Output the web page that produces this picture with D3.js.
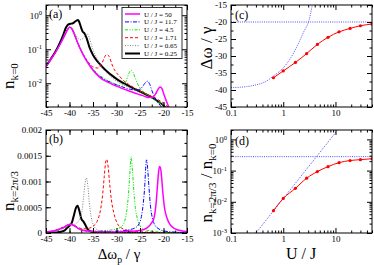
<!DOCTYPE html>
<html>
<head>
<meta charset="utf-8">
<script src="https://cdn.jsdelivr.net/npm/d3@7"></script>
<style>
body { margin: 0; background: #fff; }
svg { display: block; font-family: 'Liberation Serif', 'DejaVu Serif', serif; }
</style>
</head>
<body>
<svg id="canvas" width="374" height="265"></svg>
<script>
// series labels, same order in every panel
let legendLabels = ['U / J = 50', 'U / J = 11.7', 'U / J = 4.5', 'U / J = 1.71', 'U / J = 0.65', 'U / J = 0.25']

// panel (a): n_{k=0} against detuning, one list of [detuning, n] per U/J
let nZero50 = [[-45,0.032],[-44,0.05],[-43,0.08],[-42,0.14],[-41,0.26],[-40.5,0.36],[-40,0.44],[-39.6,0.42],[-39.2,0.33],[-38.8,0.24],[-38.3,0.16],[-37.8,0.11],[-37,0.065],[-36,0.038],[-35,0.024],[-34,0.017],[-33,0.013],[-32,0.011],[-31,0.0094],[-30,0.0082],[-29,0.0072],[-28,0.0064],[-27,0.0057],[-26,0.0051],[-25,0.0046],[-24,0.0041],[-23,0.0038],[-22.3,0.0039],[-21.7,0.0048],[-21.2,0.0065],[-20.7,0.0077],[-20.3,0.0068],[-19.9,0.0047],[-19.4,0.003],[-18.8,0.0019]]
let nZero11 = [[-45,0.032],[-44,0.05],[-43,0.08],[-42,0.14],[-41,0.26],[-40.5,0.36],[-40,0.44],[-39.6,0.42],[-39.2,0.33],[-38.8,0.24],[-38.3,0.16],[-37.8,0.11],[-37,0.066],[-36,0.039],[-35,0.025],[-34,0.018],[-33,0.014],[-32,0.0118],[-31,0.0102],[-30,0.009],[-29,0.008],[-28,0.0072],[-27,0.0066],[-26,0.0063],[-25,0.0067],[-24.5,0.0078],[-24,0.0098],[-23.4,0.0115],[-23,0.0098],[-22.5,0.0062],[-22,0.0042],[-21.5,0.0031],[-21,0.0025],[-20.3,0.0019]]
let nZero4 = [[-45,0.032],[-44,0.05],[-43,0.08],[-42,0.14],[-41,0.26],[-40.5,0.36],[-40,0.44],[-39.6,0.42],[-39.2,0.33],[-38.8,0.24],[-38.3,0.16],[-37.8,0.11],[-37,0.067],[-36,0.04],[-35,0.026],[-34,0.019],[-33,0.015],[-32,0.0125],[-31,0.0105],[-30,0.0092],[-29,0.0082],[-28.4,0.0088],[-27.9,0.012],[-27.4,0.019],[-26.9,0.024],[-26.5,0.021],[-26,0.014],[-25.5,0.0095],[-25,0.0072],[-24,0.0052],[-23,0.0041],[-22,0.0033],[-21,0.0027],[-20,0.0022],[-19.5,0.0019]]
let nZero1 = [[-45,0.032],[-44,0.05],[-43,0.08],[-42,0.14],[-41,0.26],[-40.5,0.36],[-40,0.44],[-39.6,0.42],[-39.2,0.33],[-38.8,0.24],[-38.3,0.16],[-37.8,0.11],[-37,0.068],[-36,0.042],[-35,0.03],[-34,0.028],[-33.3,0.034],[-32.8,0.048],[-32.4,0.064],[-32,0.07],[-31.6,0.062],[-31.2,0.045],[-30.8,0.031],[-30.3,0.023],[-29.5,0.017],[-28.5,0.012],[-27,0.0085],[-25,0.006],[-23,0.0044],[-21,0.0032],[-19.5,0.0023],[-18.9,0.0019]]
let nZero065 = [[-45,0.032],[-44,0.05],[-43,0.082],[-42,0.145],[-41,0.28],[-40.5,0.38],[-40,0.45],[-39.6,0.43],[-39.2,0.36],[-38.7,0.27],[-38.2,0.21],[-37.6,0.19],[-37,0.22],[-36.5,0.27],[-36.2,0.28],[-35.8,0.22],[-35.3,0.13],[-34.7,0.075],[-34,0.048],[-33.3,0.032],[-32.5,0.023],[-31.5,0.017],[-30,0.0115],[-28,0.0083],[-26,0.0064],[-24,0.0049],[-22,0.0037],[-20.5,0.0027],[-19.5,0.0021],[-19,0.0019]]
let nZero025 = [[-45,0.032],[-44,0.051],[-43,0.085],[-42,0.16],[-41.3,0.27],[-40.8,0.42],[-40.3,0.53],[-39.8,0.56],[-39.3,0.58],[-38.9,0.64],[-38.5,0.7],[-38.2,0.73],[-37.9,0.62],[-37.5,0.42],[-37.2,0.33],[-36.8,0.29],[-36.4,0.22],[-35.8,0.12],[-35,0.068],[-34,0.043],[-33,0.03],[-32,0.022],[-31,0.017],[-30,0.0135],[-28,0.0092],[-26,0.0066],[-24,0.0049],[-22,0.0035],[-21,0.0028],[-20,0.0022],[-19.6,0.0019]]

// panel (b): n_{k=2pi/3} against detuning
let nPi50 = [[-45,0.00002],[-43,0.00005],[-42,0.00008],[-41,0.00012],[-40.3,0.00016],[-39.7,0.00017],[-39,0.00014],[-38,0.00008],[-37,0.00005],[-35,0.00003],[-32,0.00002],[-28,0.00003],[-25,0.00005],[-23.5,0.0001],[-22.5,0.0002],[-22,0.0003],[-21.6,0.00055],[-21.3,0.0009],[-21,0.00122],[-20.8,0.00129],[-20.5,0.00118],[-20.2,0.00085],[-19.8,0.0005],[-19.3,0.0003],[-18.5,0.00015],[-17.5,0.00008],[-16,0.00004],[-15,0.00003]]
let nPi11 = [[-45,0.00002],[-43,0.00005],[-42,0.00008],[-41,0.00012],[-40.3,0.00016],[-39.7,0.00017],[-39,0.00014],[-38,0.00008],[-37,0.00005],[-35,0.00003],[-32,0.00003],[-29,0.00004],[-27,0.00007],[-26,0.0001],[-25.2,0.00018],[-24.7,0.00032],[-24.3,0.00058],[-24,0.0009],[-23.8,0.00125],[-23.6,0.00142],[-23.4,0.00128],[-23.1,0.0009],[-22.8,0.00055],[-22.4,0.0003],[-21.8,0.00015],[-21,0.00008],[-20,0.00004],[-18,0.00002],[-15,0.00001]]
let nPi4 = [[-45,0.00002],[-43,0.00005],[-42,0.00008],[-41,0.00012],[-40.3,0.00016],[-39.7,0.00017],[-39,0.00014],[-38,0.00008],[-37,0.00005],[-35,0.00004],[-32,0.00005],[-30,0.00008],[-29,0.00012],[-28.3,0.00022],[-27.9,0.00038],[-27.5,0.0007],[-27.2,0.0011],[-26.9,0.00148],[-26.6,0.0012],[-26.3,0.0008],[-26,0.0005],[-25.5,0.00026],[-25,0.00014],[-24,0.00007],[-22,0.00003],[-19,0.00001],[-15,0.00001]]
let nPi1 = [[-45,0.00002],[-43,0.00005],[-42,0.00009],[-41,0.00013],[-40.3,0.00016],[-39.7,0.00017],[-39,0.00015],[-38,0.0001],[-37,0.00008],[-36,0.00009],[-35,0.00013],[-34,0.00025],[-33.4,0.00045],[-33,0.0007],[-32.6,0.0011],[-32.3,0.00138],[-32.1,0.00143],[-31.8,0.0013],[-31.5,0.001],[-31.1,0.00065],[-30.6,0.0004],[-30,0.00022],[-29,0.0001],[-27,0.00004],[-24,0.00002],[-20,0.00001],[-15,0.00001]]
let nPi065 = [[-45,0.00001],[-43,0.00003],[-42,0.00005],[-41,0.0001],[-40.3,0.00014],[-39.7,0.00015],[-39,0.00016],[-38.4,0.0002],[-37.8,0.00028],[-37.3,0.00045],[-37,0.0007],[-36.7,0.00095],[-36.4,0.00107],[-36.1,0.00092],[-35.8,0.0006],[-35.4,0.00032],[-35,0.00017],[-34,0.00006],[-32,0.00002],[-28,0.00001],[-15,0]]
let nPi025 = [[-45,0],[-43,0.00001],[-42,0.00002],[-41,0.00005],[-40.5,0.0001],[-40,0.00014],[-39.5,0.0002],[-39.1,0.00033],[-38.7,0.00047],[-38.3,0.00053],[-37.9,0.00043],[-37.5,0.00028],[-37.1,0.00023],[-36.7,0.00017],[-36.2,0.00008],[-35.5,0.00003],[-34,0.00001],[-30,0],[-15,0]]

// panels (c) and (d): peak position and peak ratio against U/J
let uValues = [0.65, 1.0, 1.71, 2.8, 4.5, 7.2, 11.7, 19, 30, 50]
let shiftValues = [-36.4, -34.4, -31.9, -29.3, -26.6, -24.5, -22.9, -21.9, -21.1, -20.6]
let ratioValues = [0.0052, 0.0128, 0.027, 0.057, 0.093, 0.134, 0.18, 0.21, 0.224, 0.24]
let limitU = [0.1, 0.2, 0.3, 0.45, 0.65, 1, 1.4, 2, 2.5, 3.1, 3.6]
let limitShift = [-39.3, -39.0, -38.5, -37.6, -35.9, -33.5, -30.5, -26, -22.7, -19.6, -15]
let flatShift = -20
let flatRatio = 0.28
let slopeU = [0.3, 11]
let slopeRatio = [0.001, 2]

// tick values
let detuningTicks = [-45, -40, -35, -30, -25, -20, -15]
let nZeroTicks = [0.01, 0.1, 1]
let nPiTicks = [0, 0.0005, 0.001, 0.0015, 0.002]
let uTicks = [0.1, 1, 10]
let shiftTicks = [-45, -40, -35, -30, -25, -20, -15]
let ratioTicks = [0.001, 0.01, 0.1, 1]

let canvas = d3.select('#canvas')

let xShift = d3.scaleLinear().domain([-45, -15]).range([46, 187])
let yA = d3.scaleLog().domain([0.002, 2]).range([107, 5])
let yB = d3.scaleLinear().domain([0, 0.002]).range([233, 130])
let xU = d3.scaleLog().domain([0.1, 50]).range([231, 372])
let yC = d3.scaleLinear().domain([-45, -15]).range([107, 5])
let yD = d3.scaleLog().domain([0.001, 2]).range([233, 130])

let lineStyles = [
    {color: '#ff00ff', width: 1.5, dash: null},
    {color: '#0000ff', width: 1, dash: '4,1.5,1,1.5'},
    {color: '#00ee00', width: 1, dash: '3,1.5,1,1.5,1,1.5'},
    {color: '#ff0000', width: 1, dash: '3,2'},
    {color: '#808080', width: 1, dash: '1,1.5'},
    {color: '#000000', width: 2, dash: null}
]

let logMinors = (domain) => {
    let out = []
    for (let e = -4; e <= 2; e++) {
        for (let m = 2; m <= 9; m++) {
            let v = m * Math.pow(10, e)
            if (v >= domain[0] * 0.999 && v <= domain[1] * 1.001) out.push(v)
        }
    }
    return out
}

let linMinors = (domain, step) => {
    let out = []
    for (let v = domain[0]; v <= domain[1] + 1e-12; v += step) out.push(v)
    return out
}

let powerLabels = (axisG) => {
    axisG.selectAll('.tick text').each(function (d) {
        let t = d3.select(this).text('10')
        t.append('tspan').attr('dy', '-0.5em').attr('font-size', 6.5).text(Math.round(Math.log10(d)))
    })
}

let drawAxes = (x, y, xTicks, xMinor, yTicks, yMinor, yLog) => {
    let [xl, xr] = x.range()
    let [yb, yt] = y.range()
    let g = canvas.append('g')
    let fmt = d => String(d)
    let place = (axis, tx, ty) => g.append('g')
        .attr('transform', 'translate(' + tx + ',' + ty + ')')
        .call(axis)
        .attr('font-family', null)
        .attr('font-size', 9)

    place(d3.axisBottom(x).tickValues(xTicks).tickSize(-5).tickPadding(3).tickFormat(fmt), 0, yb)
    place(d3.axisBottom(x).tickValues(xMinor).tickSize(-2.5).tickFormat(''), 0, yb)
    place(d3.axisTop(x).tickValues(xTicks).tickSize(-5).tickFormat(''), 0, yt)
    place(d3.axisTop(x).tickValues(xMinor).tickSize(-2.5).tickFormat(''), 0, yt)
    let leftAxis = place(d3.axisLeft(y).tickValues(yTicks).tickSize(-5).tickPadding(4).tickFormat(fmt), xl, 0)
    place(d3.axisLeft(y).tickValues(yMinor).tickSize(-2.5).tickFormat(''), xl, 0)
    place(d3.axisRight(y).tickValues(yTicks).tickSize(-5).tickFormat(''), xr, 0)
    place(d3.axisRight(y).tickValues(yMinor).tickSize(-2.5).tickFormat(''), xr, 0)
    g.selectAll('.domain').remove()
    if (yLog) powerLabels(leftAxis)

    g.append('rect')
        .attr('x', xl).attr('y', yt)
        .attr('width', xr - xl).attr('height', yb - yt)
        .attr('fill', 'none').attr('stroke', 'black').attr('stroke-width', 1)
}

let clipped = (id, x, y) => {
    let [xl, xr] = x.range()
    let [yb, yt] = y.range()
    canvas.append('clipPath').attr('id', id).append('rect')
        .attr('x', xl).attr('y', yt).attr('width', xr - xl).attr('height', yb - yt)
    return canvas.append('g').attr('clip-path', 'url(#' + id + ')')
}

let drawCurve = (g, x, y, points, style) => {
    g.append('path')
        .datum(points)
        .attr('fill', 'none')
        .attr('stroke', style.color)
        .attr('stroke-width', style.width)
        .attr('stroke-dasharray', style.dash)
        .attr('d', d3.line().x(p => x(p[0])).y(p => y(p[1])).curve(d3.curveMonotoneX))
}

// ---- panel (a)
let gA = clipped('clipA', xShift, yA)
let seriesA = [nZero50, nZero11, nZero4, nZero1, nZero065, nZero025]
for (let i = seriesA.length - 1; i >= 0; i--) drawCurve(gA, xShift, yA, seriesA[i], lineStyles[i])
drawAxes(xShift, yA, detuningTicks, linMinors([-45, -15], 2.5), nZeroTicks, logMinors(yA.domain()), true)

// ---- panel (b)
let gB = clipped('clipB', xShift, yB)
let seriesB = [nPi50, nPi11, nPi4, nPi1, nPi065, nPi025]
for (let i = seriesB.length - 1; i >= 0; i--) drawCurve(gB, xShift, yB, seriesB[i], lineStyles[i])
drawAxes(xShift, yB, detuningTicks, linMinors([-45, -15], 2.5), nPiTicks, linMinors([0, 0.002], 0.00025), false)

// ---- panel (c)
let limitStyle = {color: '#5050ff', width: 1, dash: '1,1.2'}
let fitStyle = {color: '#ff0000', width: 1, dash: null}
let gC = clipped('clipC', xU, yC)
drawCurve(gC, xU, yC, xU.domain().map(u => [u, flatShift]), limitStyle)
drawCurve(gC, xU, yC, limitU.map((u, i) => [u, limitShift[i]]), limitStyle)
drawCurve(gC, xU, yC, uValues.map((u, i) => [u, shiftValues[i]]), fitStyle)
gC.selectAll('circle').data(uValues).enter().append('circle')
    .attr('cx', u => xU(u)).attr('cy', (u, i) => yC(shiftValues[i])).attr('r', 1.6).attr('fill', '#ff0000')
drawAxes(xU, yC, uTicks, logMinors(xU.domain()), shiftTicks, linMinors([-45, -15], 2.5), false)

// ---- panel (d)
let gD = clipped('clipD', xU, yD)
drawCurve(gD, xU, yD, xU.domain().map(u => [u, flatRatio]), limitStyle)
drawCurve(gD, xU, yD, slopeU.map((u, i) => [u, slopeRatio[i]]), limitStyle)
drawCurve(gD, xU, yD, uValues.map((u, i) => [u, ratioValues[i]]), fitStyle)
gD.selectAll('circle').data(uValues).enter().append('circle')
    .attr('cx', u => xU(u)).attr('cy', (u, i) => yD(ratioValues[i])).attr('r', 1.6).attr('fill', '#ff0000')
drawAxes(xU, yD, uTicks, logMinors(xU.domain()), ratioTicks, logMinors(yD.domain()), true)

// ---- legend in (a)
let legend = canvas.append('g')
legend.append('rect').attr('x', 122).attr('y', 7.5).attr('width', 60).attr('height', 51)
    .attr('fill', 'white').attr('stroke', 'black').attr('stroke-width', 0.8)
legendLabels.forEach((label, i) => {
    let yy = 14 + i * 7.9
    legend.append('line')
        .attr('x1', 125).attr('x2', 140).attr('y1', yy).attr('y2', yy)
        .attr('stroke', lineStyles[i].color)
        .attr('stroke-width', lineStyles[i].width)
        .attr('stroke-dasharray', lineStyles[i].dash)
    legend.append('text').attr('x', 144).attr('y', yy + 2.5).attr('font-size', 7).text(label)
})

// ---- panel tags
let tags = [['(a)', 49, 18], ['(b)', 49, 143], ['(c)', 235, 19], ['(d)', 235, 145]]
tags.forEach(t => {
    canvas.append('text').attr('x', t[1]).attr('y', t[2]).attr('font-size', 12).text(t[0])
})

// ---- axis titles
let title = (x, y, rotate, size, parts) => {
    let t = canvas.append('text')
        .attr('transform', 'translate(' + x + ',' + y + ')' + (rotate ? ' rotate(-90)' : ''))
        .attr('text-anchor', 'middle')
    let shift = 0
    parts.forEach(p => {
        let dy = p.sub ? 3.5 - shift : -shift
        shift = p.sub ? 3.5 : 0
        t.append('tspan').attr('dy', dy).attr('font-size', p.sub ? size * 0.65 : size).text(p.text)
    })
}
title(14, 76, true, 17, [{text: 'n'}, {text: 'k=0', sub: true}])
title(14, 191, true, 17, [{text: 'n'}, {text: 'k=2π/3', sub: true}])
title(212, 48, true, 17, [{text: 'Δω / γ'}])
title(212, 183, true, 17, [{text: 'n'}, {text: 'k=2π/3', sub: true}, {text: ' / n'}, {text: 'k=0', sub: true}])
title(119, 259, false, 15, [{text: 'Δω'}, {text: 'p', sub: true}, {text: ' / γ'}])
title(301, 259, false, 16, [{text: 'U / J'}])
</script>
</body>
</html>
